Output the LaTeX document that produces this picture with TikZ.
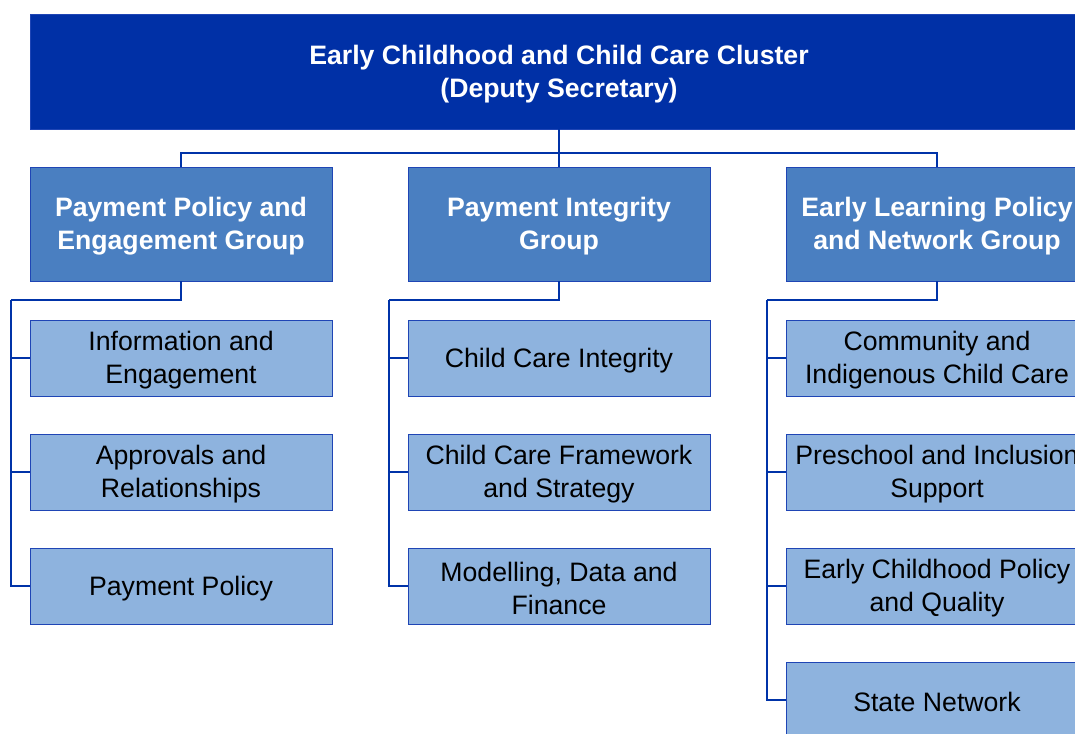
\documentclass[tikz,border=0pt]{standalone}
\usepackage{xcolor}
\usepackage{fontspec}
\setmainfont{Liberation Sans}
\usepackage{tikz}
\usetikzlibrary{positioning,calc}

\definecolor{clusterblue}{HTML}{0030A6}
\definecolor{groupblue}{HTML}{4A7FC1}
\definecolor{sectionblue}{HTML}{8EB3DE}
\definecolor{edgeblue}{HTML}{1F45B5}
\definecolor{lineblue}{HTML}{0033A8}

% a little more room above the first line, so the text sits lower
\newcommand{\gap}{\rule{0pt}{18pt}}

\tikzstyle{cluster} = [rectangle, draw=edgeblue, fill=clusterblue, text=white, font=\fontsize{20}{24.5}\selectfont\bfseries, align=center, minimum width=793.5pt, minimum height=86.25pt, inner sep=0pt]
\tikzstyle{group} = [rectangle, draw=edgeblue, fill=groupblue, text=white, font=\fontsize{20}{24.5}\selectfont\bfseries, align=center, minimum width=226.5pt, minimum height=85.5pt, inner sep=0pt]
\tikzstyle{section} = [rectangle, draw=edgeblue, fill=sectionblue, text=black, font=\fontsize{20}{24.5}\selectfont, align=center, minimum width=226.5pt, minimum height=57pt, inner sep=0pt]
\tikzstyle{link} = [draw=lineblue, line width=1.5pt]

\begin{document}
\begin{tikzpicture}[x=0.75pt, y=-0.75pt]

\useasboundingbox (0,0) rectangle (1075,733);
\clip (0,0) rectangle (1075,733);

% cluster head
\node[cluster] (head) at (559,71.5) {\gap Early Childhood and Child Care Cluster\\(Deputy Secretary)};

% groups
\node[group] (pay) at (181,224) {\gap Payment Policy and\\Engagement Group};
\node[group] (integ) at (559,224) {\gap Payment Integrity\\Group};
\node[group] (learn) at (937,224) {\gap Early Learning Policy\\and Network Group};

% sections under each group
\node[section] (info) at (181,358) {\gap Information and\\Engagement};
\node[section] (appr) at (181,472) {\gap Approvals and\\Relationships};
\node[section] (ppol) at (181,586) {\gap Payment Policy};

\node[section] (ccint) at (559,358) {\gap Child Care Integrity};
\node[section] (ccfw) at (559,472) {\gap Child Care Framework\\and Strategy};
\node[section] (model) at (559,586) {\gap Modelling, Data and\\Finance};

\node[section] (comm) at (937,358) {\gap Community and\\Indigenous Child Care};
\node[section] (presc) at (937,472) {\gap Preschool and Inclusion\\Support};
\node[section] (ecpol) at (937,586) {\gap Early Childhood Policy\\and Quality};
\node[section] (state) at (937,700) {\gap State Network};

% head to groups
\draw[link] (head.south) -- ++(0,24) -| (pay.north);
\draw[link] (head.south) -- ++(0,24) -| (learn.north);
\draw[link] (head.south) -- (integ.north);

% groups to sections
\coordinate (payrail) at (11,300);
\coordinate (integrail) at (389,300);
\coordinate (learnrail) at (767,300);

\draw[link] (pay.south) |- (payrail);
\draw[link] (payrail) |- (info.west);
\draw[link] (payrail) |- (appr.west);
\draw[link] (payrail) |- (ppol.west);

\draw[link] (integ.south) |- (integrail);
\draw[link] (integrail) |- (ccint.west);
\draw[link] (integrail) |- (ccfw.west);
\draw[link] (integrail) |- (model.west);

\draw[link] (learn.south) |- (learnrail);
\draw[link] (learnrail) |- (comm.west);
\draw[link] (learnrail) |- (presc.west);
\draw[link] (learnrail) |- (ecpol.west);
\draw[link] (learnrail) |- (state.west);

\end{tikzpicture}
\end{document}
